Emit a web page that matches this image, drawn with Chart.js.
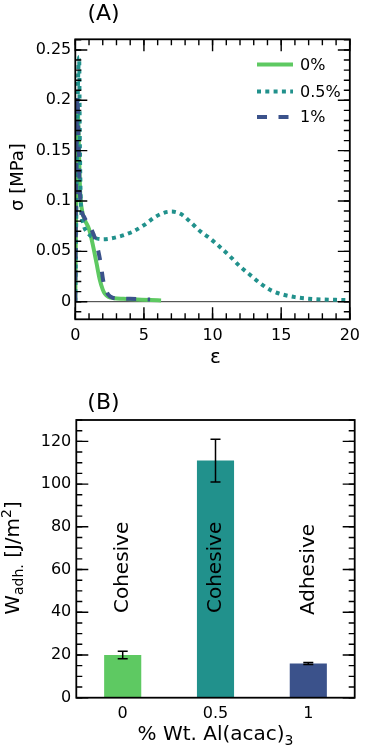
<!DOCTYPE html>
<html>
<head>
<meta charset="utf-8">
<script src="https://cdn.jsdelivr.net/npm/chart.js@4.4.1/dist/chart.umd.min.js"></script>
<style>
  body { margin: 0; background: #fff; }
  .panel { position: relative; width: 367px; }
</style>
</head>
<body>
<div class="panel" style="height:370px"><canvas id="stress-chart"></canvas></div>
<div class="panel" style="height:378px"><canvas id="work-chart"></canvas></div>
<script>
// (A) stress-strain curves
const strain0 = [0, 0.08, 0.18, 0.25, 0.35, 0.5, 0.7, 1.0, 1.3, 1.55, 1.78, 2.0, 2.15, 2.4, 2.85, 3.5, 4.5, 5.5, 6.25];
const stress0 = [0, 0.12, 0.19, 0.16, 0.11, 0.09, 0.081, 0.072, 0.055, 0.038, 0.022, 0.012, 0.008, 0.005, 0.0034, 0.0028, 0.0022, 0.0016, 0.0012];

const strain05 = [0, 0.05, 0.12, 0.2, 0.28, 0.33, 0.4, 0.57, 0.93, 1.5, 2.0, 3.0, 4.1, 5.0, 5.8, 6.5, 7.0, 7.7, 8.4, 9.1, 9.8, 10.4, 11.2, 12.0, 12.7, 13.6, 14.3, 15.0, 16.0, 17.0, 18.0, 19.0, 20.0];
const stress05 = [0, 0.06, 0.15, 0.22, 0.243, 0.16, 0.1, 0.078, 0.068, 0.063, 0.062, 0.064, 0.069, 0.076, 0.084, 0.0885, 0.0895, 0.087, 0.079, 0.07, 0.063, 0.056, 0.046, 0.035, 0.027, 0.017, 0.011, 0.0075, 0.0045, 0.003, 0.0022, 0.0018, 0.0016];

const strain1 = [0, 0.06, 0.15, 0.22, 0.3, 0.45, 0.65, 0.85, 1.2, 1.5, 1.85, 2.02, 2.2, 2.4, 2.7, 3.2, 4.0, 5.0, 5.45];
const stress1 = [0, 0.12, 0.205, 0.17, 0.12, 0.092, 0.084, 0.079, 0.071, 0.06, 0.038, 0.022, 0.013, 0.007, 0.004, 0.0032, 0.0028, 0.0024, 0.0022];

const seriesLabels = ['0%', '0.5%', '1%'];
const strainTicks = [0, 5, 10, 15, 20];
const stressTicks = [0, 0.05, 0.1, 0.15, 0.2, 0.25];

// (B) work of adhesion
const alLabels = ['0', '0.5', '1'];
const workAdh = [20.0, 111.0, 16.0];
const workErr = [1.8, 10.0, 0.5];
const failureMode = ['Cohesive', 'Cohesive', 'Adhesive'];
const modeLabelAt = [61, 61, 60];
const workTicks = [0, 20, 40, 60, 80, 100, 120];

const colors = ['#5ec962', '#21918c', '#3b528b'];
const dashes = [[], [4, 4.3], [10, 11.5]];
const FONT = 'DejaVu Sans';

Chart.defaults.font.family = FONT;
Chart.defaults.color = '#000';

function toPoints(xs, ys) {
  return xs.map((x, i) => ({ x: x, y: ys[i] }));
}

// text with sub/superscript pieces, centred on (x, y) baseline
function richText(ctx, parts, x, y, rot) {
  ctx.save();
  ctx.translate(x, y);
  ctx.rotate(rot || 0);
  ctx.fillStyle = '#000';
  ctx.textBaseline = 'alphabetic';
  ctx.textAlign = 'left';
  let total = 0;
  parts.forEach(p => {
    ctx.font = p.size + 'px "' + FONT + '"';
    p.w = ctx.measureText(p.t).width;
    total += p.w;
  });
  let cx = -total / 2;
  parts.forEach(p => {
    ctx.font = p.size + 'px "' + FONT + '"';
    ctx.fillText(p.t, cx, p.dy || 0);
    cx += p.w;
  });
  ctx.restore();
}

// frame with inward ticks on the chart area
const framePlugin = {
  id: 'frame',
  afterDraw(chart, args, opts) {
    const ctx = chart.ctx;
    const a = chart.chartArea;
    const xs = chart.scales.x, ys = chart.scales.y;
    ctx.save();
    ctx.strokeStyle = '#000';
    ctx.lineWidth = 1.4;
    const tick = (vals, len, horiz) => {
      vals.forEach(v => {
        ctx.beginPath();
        if (horiz) {
          const p = xs.getPixelForValue(v);
          ctx.moveTo(p, a.bottom); ctx.lineTo(p, a.bottom - len);
          ctx.moveTo(p, a.top); ctx.lineTo(p, a.top + len);
        } else {
          const p = ys.getPixelForValue(v);
          ctx.moveTo(a.left, p); ctx.lineTo(a.left + len, p);
          ctx.moveTo(a.right, p); ctx.lineTo(a.right - len, p);
        }
        ctx.stroke();
      });
    };
    const range = (lo, hi, step) => {
      const out = [];
      for (let v = lo; v <= hi + 1e-9; v += step) out.push(Math.round(v / step) * step);
      return out;
    };
    if (opts.xStep) {
      tick(range(xs.min, xs.max, opts.xMinor), 6, true);
      tick(range(xs.min, xs.max, opts.xStep), 12, true);
    }
    const y0 = Math.ceil(ys.min / opts.yMinor) * opts.yMinor;
    tick(range(y0, ys.max, opts.yMinor), 6, false);
    tick(range(Math.ceil(ys.min / opts.yStep) * opts.yStep, ys.max, opts.yStep), 12, false);
    ctx.lineWidth = 1.8;
    ctx.strokeRect(a.left, a.top, a.right - a.left, a.bottom - a.top);
    ctx.restore();

    (opts.texts || []).forEach(t => richText(ctx, t.parts, t.x, t.y, t.rot));
  }
};

// zero line and legend for panel A
const stressExtras = {
  id: 'stressExtras',
  beforeDatasetsDraw(chart) {
    const ctx = chart.ctx, a = chart.chartArea;
    const y = chart.scales.y.getPixelForValue(0);
    ctx.save();
    ctx.strokeStyle = '#333';
    ctx.lineWidth = 1;
    ctx.beginPath();
    ctx.moveTo(a.left, y); ctx.lineTo(a.right, y);
    ctx.stroke();
    ctx.restore();
  },
  afterDraw(chart) {
    const ctx = chart.ctx;
    const rows = [64.5, 91.5, 117];
    ctx.save();
    chart.data.datasets.forEach((ds, i) => {
      ctx.strokeStyle = ds.borderColor;
      ctx.lineWidth = 4;
      ctx.setLineDash(ds.borderDash);
      ctx.beginPath();
      ctx.moveTo(257, rows[i]); ctx.lineTo(293, rows[i]);
      ctx.stroke();
      ctx.setLineDash([]);
      ctx.fillStyle = '#000';
      ctx.font = '16px "' + FONT + '"';
      ctx.textBaseline = 'middle';
      ctx.fillText(ds.label, 300, rows[i] + 1);
    });
    ctx.restore();
  }
};

// error bars and failure-mode labels for panel B
const workExtras = {
  id: 'workExtras',
  afterDatasetsDraw(chart) {
    const ctx = chart.ctx;
    const ys = chart.scales.y;
    const bars = chart.getDatasetMeta(0).data;
    ctx.save();
    ctx.strokeStyle = '#000';
    ctx.lineWidth = 1.5;
    bars.forEach((bar, i) => {
      const hi = ys.getPixelForValue(workAdh[i] + workErr[i]);
      const lo = ys.getPixelForValue(workAdh[i] - workErr[i]);
      ctx.beginPath();
      ctx.moveTo(bar.x, hi); ctx.lineTo(bar.x, lo);
      ctx.moveTo(bar.x - 5, hi); ctx.lineTo(bar.x + 5, hi);
      ctx.moveTo(bar.x - 5, lo); ctx.lineTo(bar.x + 5, lo);
      ctx.stroke();

      ctx.save();
      ctx.translate(bar.x, ys.getPixelForValue(modeLabelAt[i]));
      ctx.rotate(-Math.PI / 2);
      ctx.fillStyle = '#000';
      ctx.font = '20px "' + FONT + '"';
      ctx.textAlign = 'center';
      ctx.textBaseline = 'middle';
      ctx.fillText(failureMode[i], 0, 0);
      ctx.restore();
    });
    ctx.restore();
  }
};

const tickFont = { size: 16, family: FONT };
const plainNumber = v => String(+Number(v).toFixed(3));

new Chart(document.getElementById('stress-chart'), {
  type: 'line',
  data: {
    datasets: [
      { label: seriesLabels[0], data: toPoints(strain0, stress0), order: 3 },
      { label: seriesLabels[1], data: toPoints(strain05, stress05), order: 2 },
      { label: seriesLabels[2], data: toPoints(strain1, stress1), order: 1 }
    ].map((ds, i) => Object.assign(ds, {
      borderColor: colors[i],
      borderWidth: 4,
      borderDash: dashes[i],
      pointRadius: 0,
      fill: false,
      cubicInterpolationMode: 'monotone'
    }))
  },
  options: {
    animation: false,
    responsive: true,
    maintainAspectRatio: false,
    layout: { padding: { top: 39.3, right: 11, left: 0, bottom: 0 } },
    plugins: {
      legend: { display: false },
      tooltip: { enabled: false },
      frame: {
        xStep: 5, xMinor: 1, yStep: 0.05, yMinor: 0.01,
        texts: [
          { parts: [{ t: '(A)', size: 22 }], x: 103.5, y: 20 },
          { parts: [{ t: 'σ [MPa]', size: 18 }], x: 22.5, y: 177, rot: -Math.PI / 2 },
          { parts: [{ t: 'ε', size: 20 }], x: 215.5, y: 363 }
        ]
      }
    },
    scales: {
      x: {
        type: 'linear', min: 0, max: 20,
        afterBuildTicks: s => { s.ticks = strainTicks.map(v => ({ value: v })); },
        afterFit: s => { s.height = 370 - 319.3; },
        grid: { display: false, drawTicks: false },
        border: { display: false },
        ticks: { font: tickFont, padding: 7, maxRotation: 0, callback: plainNumber }
      },
      y: {
        type: 'linear', min: -0.0175, max: 0.2606,
        afterBuildTicks: s => { s.ticks = stressTicks.map(v => ({ value: v })); },
        afterFit: s => { s.width = 75.3; },
        grid: { display: false, drawTicks: false },
        border: { display: false },
        ticks: { font: tickFont, padding: 4, callback: plainNumber }
      }
    }
  },
  plugins: [stressExtras, framePlugin]
});

new Chart(document.getElementById('work-chart'), {
  type: 'bar',
  data: {
    labels: alLabels,
    datasets: [{
      data: workAdh,
      backgroundColor: colors,
      categoryPercentage: 1,
      barPercentage: 0.4
    }]
  },
  options: {
    animation: false,
    responsive: true,
    maintainAspectRatio: false,
    layout: { padding: { top: 50, right: 12.3, left: 0, bottom: 0 } },
    plugins: {
      legend: { display: false },
      tooltip: { enabled: false },
      frame: {
        yStep: 20, yMinor: 5,
        texts: [
          { parts: [{ t: '(B)', size: 22 }], x: 103.5, y: 39 },
          { parts: [
              { t: 'W', size: 20 }, { t: 'adh.', size: 14, dy: 4 },
              { t: ' [J/m', size: 20 }, { t: '2', size: 14, dy: -8 }, { t: ']', size: 20 }
            ], x: 19, y: 188, rot: -Math.PI / 2 },
          { parts: [{ t: '% Wt. Al(acac)', size: 20 }, { t: '3', size: 14, dy: 5 }], x: 215.5, y: 369.5 }
        ]
      }
    },
    scales: {
      x: {
        type: 'category', offset: true,
        afterFit: s => { s.height = 378 - 327.7; },
        grid: { display: false, drawTicks: false },
        border: { display: false },
        ticks: { font: tickFont, padding: 7, maxRotation: 0 }
      },
      y: {
        type: 'linear', min: 0, max: 130,
        afterBuildTicks: s => { s.ticks = workTicks.map(v => ({ value: v })); },
        afterFit: s => { s.width = 76.3; },
        grid: { display: false, drawTicks: false },
        border: { display: false },
        ticks: { font: tickFont, padding: 5 }
      }
    }
  },
  plugins: [workExtras, framePlugin]
});
</script>
</body>
</html>
